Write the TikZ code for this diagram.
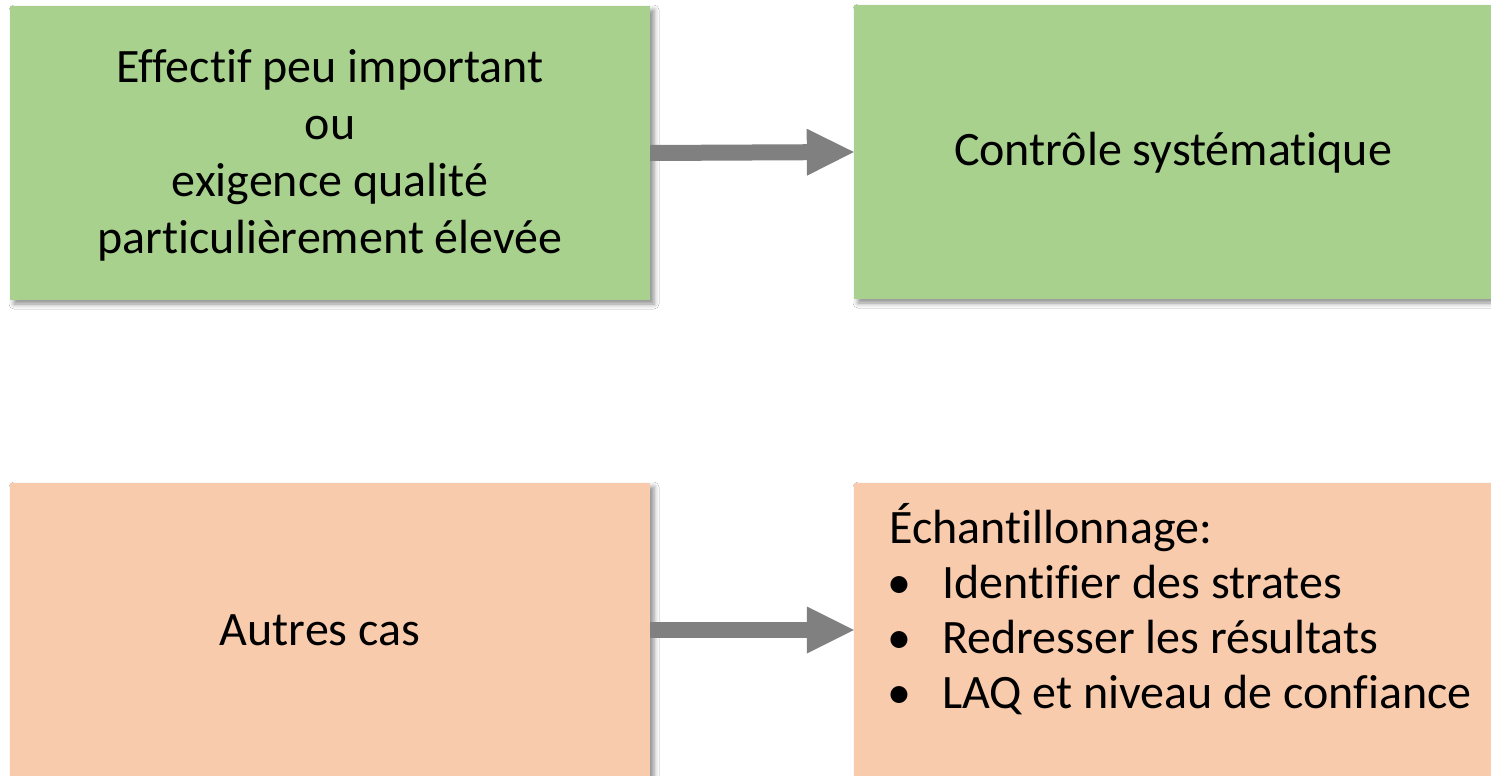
\documentclass[tikz,border=0pt]{standalone}
\usepackage{fontspec}
\setmainfont{Carlito}[Ligatures=CommonOff]
\usetikzlibrary{arrows.meta,shadows.blur,calc}
\definecolor{boxgreen}{HTML}{A9D18E}
\definecolor{boxorange}{HTML}{F8CBAD}
\definecolor{arrowgray}{HTML}{808080}
\begin{document}
\begin{tikzpicture}[x=1pt,y=-1pt,
  box/.style={minimum width=640pt,minimum height=294pt,inner sep=0pt,
    blur shadow={shadow xshift=4pt,shadow yshift=-4pt,shadow blur radius=5pt,shadow opacity=45}},
  greenbox/.style={box,fill=boxgreen},
  orangebox/.style={box,fill=boxorange},
  txt/.style={font=\fontsize{48}{57}\selectfont,inner sep=0pt},
  bigarrow/.style={draw=arrowgray,line width=16pt,-{Triangle[length=47pt,width=47pt,line width=0pt]}}
]
\useasboundingbox (0,0) rectangle (1491,776);
\fill[white] (0,0) rectangle (1491,776);
% boxes
\node[greenbox] (g1) at (330,153) {};
\node[greenbox] (g2) at (1174,152) {};
\node[orangebox] (o1) at (330,630) {};
\node[orangebox] (o2) at (1174,630) {};
% texts
\node[txt,align=center] (g1t) at (330,155) {Effectif peu important\\ou\\exigence qualité\\particulièrement élevée};
\node[txt] (g2t) at (1173,153) {Contrôle systématique};
\node[txt] (o1t) at (320,630) {Autres cas};
\node[txt,align=left,anchor=north west,font=\fontsize{48}{55}\selectfont] (o2t) at (889,503)
  {Échantillonnage:\\
   \makebox[53pt][l]{\hspace*{-2pt}•}Identifier des strates\\
   \makebox[53pt][l]{\hspace*{-2pt}•}Redresser les résultats\\
   \makebox[53pt][l]{\hspace*{-2pt}•}LAQ et niveau de confiance};
% arrows
\draw[bigarrow] (g1.east) -- (g2.west);
\draw[bigarrow] (o1.east) -- (o2.west);
\end{tikzpicture}
\end{document}
